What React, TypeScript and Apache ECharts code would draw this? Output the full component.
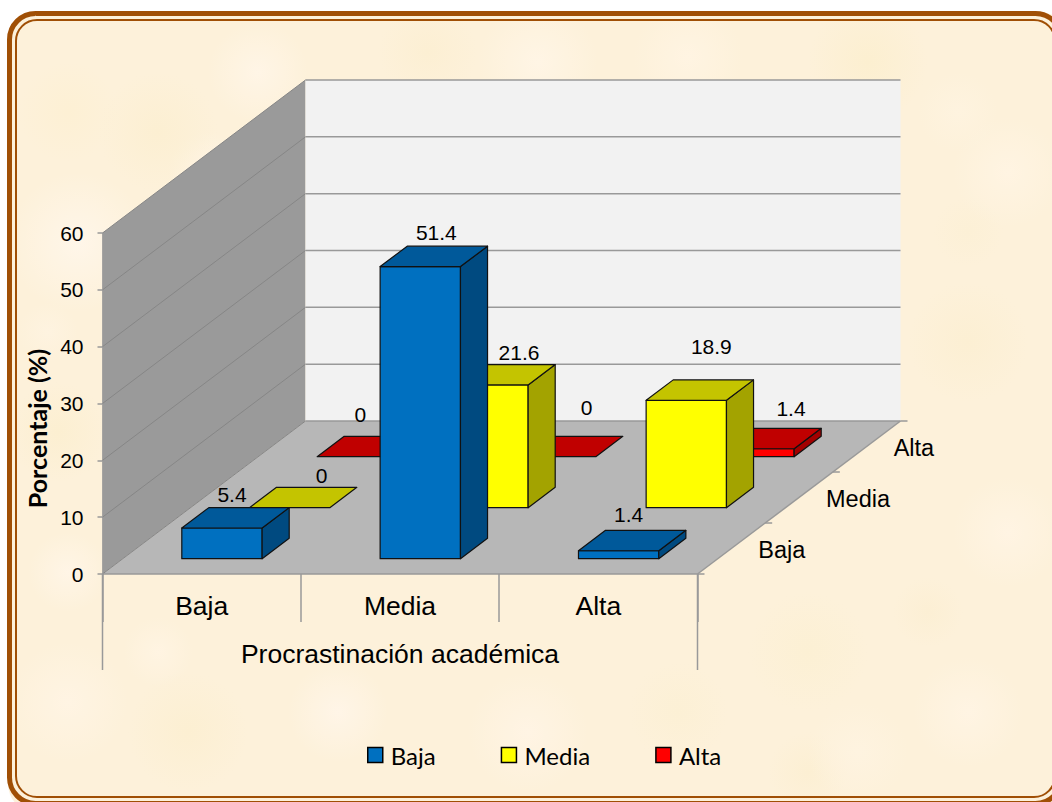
import React, { useEffect, useRef } from "react";
import * as echarts from "echarts";

// Survey results: academic procrastination level by level of the second variable.
const categories = ["Baja", "Media", "Alta"];
const depthLabels = ["Baja", "Media", "Alta"];
const seriesNames = ["Baja", "Media", "Alta"];
const bajaValues = [5.4, 51.4, 1.4];
const mediaValues = [0, 21.6, 18.9];
const altaValues = [0, 0, 1.4];
const yTicks = { min: 0, max: 60, interval: 10 };

// Hand-placed data label offsets, measured from the centre of each bar's rear top edge.
const labelNudges = [
  [[-17, -13], [-11, -14], [-17, -16]],
  [[5, -12], [4, -12], [-2, -33]],
  [[-24, -22], [4, -29], [10, -20]],
];

// Oblique projection of the depth axis, in pixels per depth slot.
const DEPTH_DX = 67.67;
const DEPTH_DY = 51;
const BAR_WIDTH_RATIO = 0.405;
const BAR_DEPTH = 0.4;
const BAR_FRONT = 0.3;

const palettes = [
  { front: "#0070c0", top: "#00599a", side: "#004a80" },
  { front: "#ffff00", top: "#c4c400", side: "#a3a300" },
  { front: "#ff0000", top: "#c00000", side: "#a30000" },
];

const shift = (p: number[], depth: number) => [p[0] + depth * DEPTH_DX, p[1] - depth * DEPTH_DY];

const face = (points: number[][], fill: string, stroke = "#111", lineWidth = 1.2) => ({
  type: "polygon",
  shape: { points },
  style: { fill, stroke, lineWidth, lineJoin: "round" },
});

// One 3D column: front, side and top faces projected from the value axis.
function barRenderer(seriesIndex: number) {
  const colors = palettes[seriesIndex];
  return (_params: any, api: any) => {
    const cat = api.value(0);
    const val = api.value(1);
    const band = api.size([1, 0])[0];
    const w = band * BAR_WIDTH_RATIO;
    const cx = api.coord([cat, 0])[0];
    const z0 = seriesIndex + BAR_FRONT;
    const base = api.coord([cat, 0])[1];
    const topY = api.coord([cat, val])[1];
    const fl = shift([cx - w / 2, base], z0);
    const fr = shift([cx + w / 2, base], z0);
    const tl = shift([cx - w / 2, topY], z0);
    const tr = shift([cx + w / 2, topY], z0);
    const backL = shift(tl, BAR_DEPTH);
    const backR = shift(tr, BAR_DEPTH);
    const bottomR = shift(fr, BAR_DEPTH);
    const children: any[] = [];
    if (val > 0) {
      children.push(face([fl, fr, tr, tl], colors.front));
      children.push(face([fr, bottomR, backR, tr], colors.side));
    }
    children.push(face([tl, tr, backR, backL], colors.top));
    const nudge = labelNudges[seriesIndex][cat];
    children.push({
      type: "text",
      style: {
        text: String(val),
        x: (backL[0] + backR[0]) / 2 + nudge[0],
        y: backL[1] + nudge[1],
        fill: "#000",
        fontFamily: "Liberation Sans",
        fontSize: 21,
        align: "center",
        verticalAlign: "middle",
      },
    });
    return { type: "group", children };
  };
}

// Walls, floor, gridlines, depth axis and the long outer category ticks.
function sceneRenderer(_params: any, api: any) {
  const band = api.size([1, 0])[0];
  const left = api.coord([0, 0])[0] - band / 2;
  const right = api.coord([categories.length - 1, 0])[0] + band / 2;
  const y0 = api.coord([0, 0])[1];
  const depth = depthLabels.length;
  const children: any[] = [];
  const yAt = (v: number) => api.coord([0, v])[1];
  const yTop = yAt(yTicks.max);

  children.push({
    type: "polygon",
    shape: { points: [[left, y0], [left, yTop], shift([left, yTop], depth), shift([left, y0], depth)] },
    style: { fill: "#9a9a9a" },
  });
  children.push({
    type: "polygon",
    shape: {
      points: [shift([left, y0], depth), shift([left, yTop], depth), shift([right, yTop], depth), shift([right, y0], depth)],
    },
    style: { fill: "#f2f2f2" },
  });
  children.push({
    type: "polygon",
    shape: { points: [[left, y0], [right, y0], shift([right, y0], depth), shift([left, y0], depth)] },
    style: { fill: "#b7b7b7" },
  });

  for (let v = yTicks.min; v <= yTicks.max; v += yTicks.interval) {
    const a = [left, yAt(v)];
    const b = shift(a, depth);
    const c = shift([right, yAt(v)], depth);
    children.push({
      type: "line",
      shape: { x1: a[0], y1: a[1], x2: b[0], y2: b[1] },
      style: { stroke: "#868686", lineWidth: 1 },
    });
    children.push({
      type: "line",
      shape: { x1: b[0], y1: b[1], x2: c[0], y2: c[1] },
      style: { stroke: "#999999", lineWidth: 1.5 },
    });
  }

  const edgeStyle = { stroke: "#999999", lineWidth: 1.5 };
  const floorEnd = shift([right, y0], depth);
  children.push({ type: "line", shape: { x1: left, y1: y0, x2: right, y2: y0 }, style: edgeStyle });
  children.push({ type: "line", shape: { x1: right, y1: y0, x2: floorEnd[0], y2: floorEnd[1] }, style: edgeStyle });
  children.push({ type: "line", shape: { x1: left, y1: y0, x2: left, y2: y0 + 96 }, style: edgeStyle });
  children.push({ type: "line", shape: { x1: right, y1: y0, x2: right, y2: y0 + 96 }, style: edgeStyle });

  for (let d = 0; d <= depth; d++) {
    const p = shift([right, y0], d);
    children.push({ type: "line", shape: { x1: p[0], y1: p[1], x2: p[0] + 7, y2: p[1] }, style: edgeStyle });
  }
  depthLabels.forEach((text, d) => {
    const p = shift([right, y0], d + 0.5);
    children.push({
      type: "text",
      style: {
        text,
        x: p[0] + 27,
        y: p[1] + 1,
        fill: "#000",
        fontFamily: "Liberation Sans",
        fontSize: 23.5,
        align: "left",
        verticalAlign: "middle",
      },
    });
  });
  return { type: "group", children };
}

// Soft mottling of the parchment behind the chart.
const parchmentSpots = [
  [70, 230, 70, "#fff6e9"], [150, 120, 60, "#fcefd2"], [250, 60, 50, "#fff5e6"], [60, 100, 50, "#fdf0d4"],
  [530, 50, 60, "#fff5e5"], [420, 40, 50, "#fcefd3"], [680, 45, 55, "#fff4e2"], [860, 50, 60, "#fcefd0"],
  [1000, 160, 55, "#fff4e2"], [950, 100, 40, "#fef3df"], [960, 330, 60, "#fcefd3"], [1000, 520, 55, "#fff4e3"],
  [50, 420, 50, "#fcefd1"], [60, 560, 40, "#fff5e6"], [60, 690, 60, "#fff4e3"], [180, 720, 60, "#fcefd2"],
  [330, 700, 50, "#fff5e7"], [520, 720, 60, "#fff4e4"], [670, 700, 50, "#fcf0d5"], [800, 640, 60, "#fcf0d4"],
  [960, 700, 55, "#fff4e3"], [850, 740, 50, "#fef3e0"], [150, 640, 35, "#fff4e2"], [800, 760, 40, "#fcefd3"],
  [200, 160, 40, "#fff5e6"], [960, 220, 35, "#fcf0d6"], [40, 320, 30, "#fef3e0"], [920, 600, 35, "#fcefd4"],
];
const parchment = parchmentSpots
  .map(([x, y, r, c]) => `radial-gradient(circle ${r}px at ${x}px ${y}px, ${c}, transparent)`)
  .join(",");

export default function App() {
  const ref = useRef<HTMLDivElement>(null);

  useEffect(() => {
    document.body.style.margin = "0";
    const chart = echarts.init(ref.current!, null, { renderer: "svg" });
    const valueLists = [bajaValues, mediaValues, altaValues];
    chart.setOption({
      animation: false,
      backgroundColor: "transparent",
      grid: { left: 102.5, top: 233, width: 595, height: 341 },
      legend: {
        data: seriesNames,
        left: 367,
        top: 743,
        padding: 0,
        icon: "rect",
        itemWidth: 15,
        itemHeight: 15,
        itemGap: 65,
        selectedMode: false,
        itemStyle: { borderColor: "#000", borderWidth: 1.5 },
        textStyle: { fontFamily: "Lato", fontSize: 24, color: "#000", padding: [0, 0, 0, 3] },
      },
      xAxis: {
        type: "category",
        data: categories,
        name: "Procrastinación académica",
        nameLocation: "middle",
        nameGap: 66,
        nameTextStyle: { fontFamily: "Liberation Sans", fontSize: 26.5, color: "#000" },
        axisLine: { show: false },
        axisTick: { show: true, length: 48, lineStyle: { color: "#999999", width: 1.5 } },
        axisLabel: { fontFamily: "Liberation Sans", fontSize: 26.5, color: "#000", margin: 18 },
        splitLine: { show: false },
      },
      yAxis: {
        type: "value",
        min: yTicks.min,
        max: yTicks.max,
        interval: yTicks.interval,
        name: "Porcentaje (%)",
        nameLocation: "middle",
        nameGap: 48,
        nameRotate: 90,
        nameTextStyle: {
          fontFamily: "Lato",
          fontWeight: "bold",
          fontSize: 25,
          color: "#000",
          padding: [0, 50, 0, 0],
        },
        axisLine: { show: true, lineStyle: { color: "#999999", width: 1.5 } },
        axisTick: { show: true, length: 5, lineStyle: { color: "#999999", width: 1.5 } },
        axisLabel: { fontFamily: "Liberation Sans", fontSize: 21, color: "#000", margin: 19 },
        splitLine: { show: false },
      },
      graphic: [
        {
          type: "rect",
          silent: true,
          shape: { x: 9.5, y: 13.5, width: 1052, height: 790, r: 26 },
          style: { fill: "none", stroke: "#a04f05", lineWidth: 5 },
        },
        {
          type: "rect",
          silent: true,
          shape: { x: 16, y: 20, width: 1039, height: 777, r: 21 },
          style: { fill: "none", stroke: "#a04f05", lineWidth: 2 },
        },
      ],
      series: [
        {
          type: "custom",
          name: "scene",
          silent: true,
          z: 1,
          renderItem: sceneRenderer,
          data: [[0, 0]],
        },
        ...seriesNames.map((name, i) => ({
          type: "custom",
          name,
          silent: true,
          z: 5 - i,
          itemStyle: { color: palettes[i].front },
          renderItem: barRenderer(i),
          data: valueLists[i].map((v, c) => [c, v]),
        })),
      ],
    });
    return () => chart.dispose();
  }, []);

  return (
    <div style={{ position: "relative", width: 1052, height: 802, background: "#fff", overflow: "hidden" }}>
      <div
        style={{
          position: "absolute",
          left: 8,
          top: 12,
          width: 1060,
          height: 800,
          borderRadius: 28,
          backgroundColor: "#fdf1da",
          backgroundImage: parchment,
        }}
      />
      <div ref={ref} style={{ position: "absolute", left: 0, top: 0, width: 1052, height: 802 }} />
    </div>
  );
}
